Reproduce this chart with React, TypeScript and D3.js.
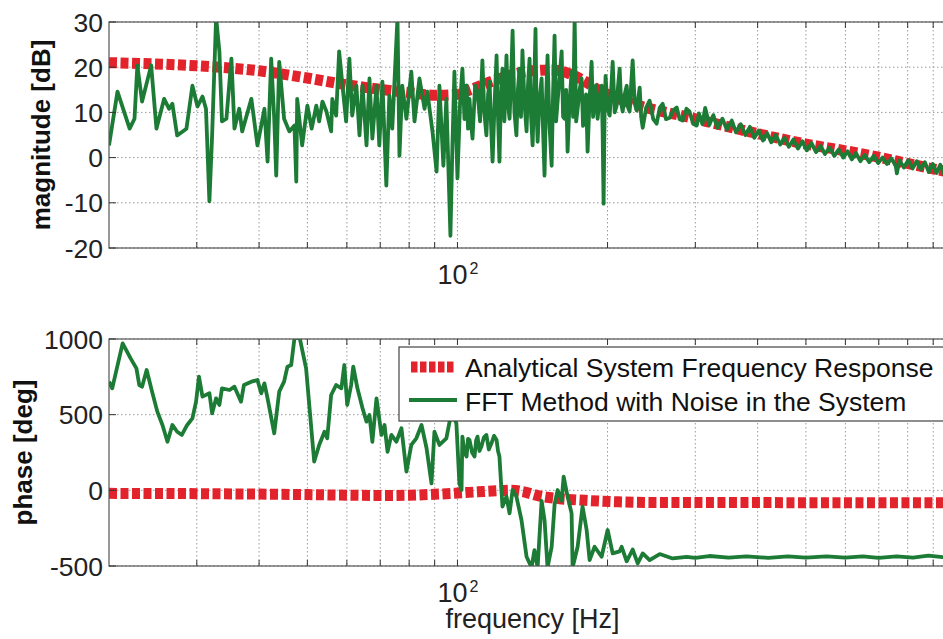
import React from 'react';
import * as d3 from 'd3';

// frequency [Hz], value
const analyticMag: [number, number][] = [
  [20, 21.0], [30, 20.3], [40, 19.2], [50, 17.6], [60, 16.1], [70, 15.1], [80, 14.4], [90, 13.8],
  [100, 14.0], [106, 15.0], [118, 17.0], [137, 19.0], [155, 19.4], [178, 17.2], [193, 14.8],
  [218, 12.4], [300, 8.6], [400, 5.3], [500, 3.0], [600, 1.5], [700, 0.1], [800, -1.3],
  [900, -2.5], [1000, -3.5],
];

const analyticPhase: [number, number][] = [
  [20, -20], [30, -22], [40, -25], [50, -28], [60, -32], [70, -34], [80, -32], [90, -26],
  [100, -18], [110, -10], [120, -3], [128, 0], [135, -8], [145, -35], [160, -55], [180, -66],
  [210, -76], [250, -80], [1000, -82],
];

const fftMag: [number, number][] = [
  [20, 2.7], [20.8, 14.6], [22, 6.4], [22.5, 8.6], [22.8, 20.4], [23.3, 12.4], [24.3, 20.4],
  [24.9, 6.4], [25.8, 13.0], [26.4, 10.8], [26.8, 11.9], [27.4, 4.9], [28.6, 6.4], [29.4, 15.9],
  [30.1, 11.3], [30.8, 13.5], [31.3, 10.8], [31.8, -9.7], [32.2, 4.9], [32.8, 31], [33.3, 23.5],
  [33.7, 8.0], [34.4, 8.6], [35.2, 21.9], [35.7, 6.4], [36.5, 10.8], [37.0, 5.8], [38.6, 13.0],
  [39.7, 2.7], [41.0, 10.8], [41.6, -0.9], [42.3, 21.9], [42.9, 8.6], [43.3, -4.0], [43.9, 21.2],
  [44.9, 8.6], [46.0, 5.8], [47.1, 7.1], [47.5, -5.3], [47.7, 13.0], [48.8, 2.7], [50.0, 11.5],
  [51.0, 6.4], [52.1, 11.5], [52.8, 8.0], [53.6, 12.4], [54.6, 10.2], [55.8, 5.8], [56.1, 13.0],
  [57.1, 9.3], [57.9, 23.5], [58.8, 15.9], [59.8, 8.0], [60.7, 21.9], [61.5, 9.3], [62.7, 15.9],
  [63.6, 4.9], [64.5, 15.9], [65.7, 2.7], [66.6, 17.5], [67.5, 4.2], [68.8, 15.9], [69.7, 2.7],
  [70.7, 16.8], [72.0, -6.2], [73.0, 13.7], [74.0, 6.4], [75.8, 31], [76.5, 0.4], [77.5, 15.9],
  [79.0, 8.6], [80.8, 19.0], [82.0, 8.0], [83.9, 17.5], [85.9, 10.8], [87.0, 14.6], [89.1, 5.8],
  [90.8, -3.1], [92.0, 15.9], [93.7, -1.8], [95.0, 13.0], [96.8, -17.3], [97.7, 2.7], [98.6, 19.0],
  [100, -4.6], [101.2, 12], [102.3, 19.7], [103.3, 8.5], [104.3, 16], [105, 6.4], [105.7, 13.0],
  [106.5, 7.5], [107.2, 4.2], [108.5, 16], [109.7, 14.6], [111, 8], [112.2, 21.5], [113.2, 10],
  [114.3, 4.9], [115.2, 14], [116.0, 16.8], [116.8, 7], [117.6, -0.9], [118.7, 12], [119.8, 22.6],
  [120.6, 9], [121.4, -0.9], [122.2, 13], [123.1, 19.7], [124.2, 8], [125.4, 22.6], [126.3, 12],
  [127.2, 8.6], [128.1, 17], [129.0, 28.1], [130.1, 10], [131.3, 4.9], [132.2, 15], [133.2, 19.7],
  [134.1, 9], [135.0, 23.7], [136.3, 12], [137.6, 5.8], [138.5, 16], [139.5, 21.9], [140.5, 9],
  [141.5, 2.7], [142.4, 14], [143.4, 28.5], [144.1, 10], [144.8, 3.5], [146.1, 13], [147.5, 17.5],
  [148.5, 6], [149.5, -4.0], [150.5, 12], [151.6, 22.6], [153, 7], [154.5, -1.8], [155.5, 14],
  [156.6, 27.0], [157.7, 8], [158.8, 12.4], [160.3, 18], [161.8, 23.5], [162.9, 9], [164.0, 8.6],
  [165.2, 15], [166.3, 1.3], [167.8, 12], [169.4, 19.0], [170.6, 9], [171.8, 31], [173, 8],
  [174.2, 10.8], [175.8, 15], [177.4, 17.5], [178.6, 7], [179.9, 8.6], [181.1, 14], [182.4, 1.3],
  [184.1, 13], [185.8, 21.2], [187.1, 9], [188.4, 12.4], [189.7, 16], [191.0, 8.6], [192.8, 13],
  [194.6, 15.9], [195.5, 6], [196.4, -10.2], [197.3, 10], [198.2, 18.1], [200, 11], [202.0, 9.3],
  [203.4, 15], [204.8, 21.2], [206.7, 10], [208.6, 11.5], [210, 16], [211.5, 19.7], [213, 12],
  [214.5, 10.2], [216.5, 14], [218.5, 15.9], [220, 11], [221.5, 10.2], [223, 16], [224.6, 21.5],
  [226.7, 12], [228.8, 10.4], [230.4, 13], [232.0, 15.5], [233.6, 9], [235.3, 6.6], [239, 11],
  [242.9, 12.6], [247, 8.5], [250.9, 7.5], [254.5, 11], [258.0, 11.9], [262, 8.5], [266.5, 8.8],
  [271, 10.5], [275.3, 11.1], [279, 8.5], [283.0, 8.2], [288, 10.8], [292, 10.2], [297, 7.5],
  [302, 7.1], [305, 9.8], [310, 7.4], [314, 11.0], [320, 7.2], [326, 9.4], [332, 6.6], [340, 8.6],
  [347, 6.2], [355, 8.2], [362, 5.6], [370, 7.4], [378, 5.0], [386, 6.8], [394, 4.4], [402, 6.0],
  [410, 3.8], [418, 5.4], [426, 3.4], [435, 5.0], [444, 2.9], [453, 4.4], [462, 2.4], [472, 4.0],
  [482, 2.0], [492, 3.6], [502, 1.6], [513, 3.2], [524, 1.2], [535, 2.6], [546, 0.8], [558, 2.2],
  [570, 0.4], [582, 1.8], [594, 0.0], [606, 1.4], [618, -0.4], [630, 1.0], [643, -0.8],
  [656, 0.6], [670, -1.0], [684, 0.4], [698, -1.2], [712, 0.0], [727, -1.4], [742, -0.2],
  [757, -1.8], [761, -3.5], [770, -0.6], [786, -2.2], [802, -0.6], [818, -2.4], [834, -0.8],
  [850, -2.6], [866, -1.0], [882, -3.2], [898, -1.4], [914, -3.4], [930, -1.6], [946, -3.6],
  [962, -2.0], [980, -3.6], [1000, -2.6],
];

const fftPhase: [number, number][] = [
  [20, 718], [20.3, 674], [21.3, 971], [22.1, 872], [22.7, 806], [23.0, 696], [23.3, 685],
  [23.8, 795], [24.4, 652], [25.0, 520], [25.6, 432], [26.2, 321], [26.8, 432], [27.4, 387],
  [28.0, 366], [28.7, 432], [29.4, 476], [29.9, 586], [30.3, 751], [30.8, 619], [31.8, 641],
  [32.2, 509], [32.8, 608], [33.3, 564], [33.7, 674], [34.9, 663], [35.7, 685], [36.8, 586],
  [37.3, 696], [38.6, 718], [39.7, 729], [40.4, 641], [41.0, 707], [41.6, 608], [42.9, 377],
  [43.9, 652], [44.9, 718], [45.6, 817], [46.4, 828], [47.1, 1005], [48.2, 1015], [49.7, 806],
  [51.6, 190], [52.8, 300], [54.1, 387], [54.8, 344], [55.8, 630], [57.1, 696], [58.5, 674],
  [59.3, 828], [60.1, 564], [61.2, 696], [61.8, 817], [63.0, 674], [64.5, 542], [65.7, 454],
  [66.6, 498], [67.5, 321], [68.8, 608], [70.4, 366], [71.4, 432], [72.4, 255], [73.7, 366],
  [75.4, 321], [77.2, 410], [79.0, 124], [80.8, 300], [82.7, 344], [84.7, 432], [86.7, 278],
  [88.7, 46], [89.9, 387], [92.0, 300], [95.0, 344], [97.3, 520], [99.5, 443], [100.9, 46],
  [101.9, 2], [102.3, 355], [103.3, 250], [104.3, 223], [105, 340], [105.7, 333], [107, 250],
  [108.2, 223], [109, 330], [109.7, 355], [110.7, 260], [111.7, 289], [113, 350], [114.3, 366],
  [115.6, 270], [117.0, 311], [118.4, 360], [119.8, 333], [120.6, 260], [121.4, 223],
  [123.1, -107], [125.4, -41], [127.2, -152], [129.0, 2], [131.3, -41], [134.4, -196],
  [137.6, -439], [140.8, -510], [142.7, -395], [144.8, -510], [147.5, -69], [149.5, -196],
  [151.6, -510], [154.5, -373], [156.6, -95], [158.8, 2], [161.8, -69], [163.3, 90], [166.3, -41],
  [169.4, -152], [170.2, -510], [174.2, -373], [178.2, -107], [181.6, -262], [184.1, -461],
  [188.4, -373], [194.6, -439], [200.1, -262], [204.8, -417], [211.5, -403], [213.5, -373],
  [218.5, -469], [224.6, -391], [229.9, -483], [235.3, -417], [242.9, -461], [254.5, -421],
  [270.2, -450], [288.3, -439], [300, -446], [320, -434], [350, -445], [380, -436], [420, -446],
  [460, -437], [500, -445], [550, -436], [600, -445], [650, -437], [700, -446], [760, -436],
  [820, -444], [880, -432], [940, -441], [1000, -435],
];

const magTicks = [30, 20, 10, 0, -10, -20];
const phaseTicks = [1000, 500, 0, -500];
const freqGrid = [30, 40, 50, 60, 70, 80, 90, 100, 200, 300, 400, 500, 600, 700, 800, 900];

const W = 943;
const H = 639;
const FONT = 'Liberation Sans, Arial, sans-serif';
const RED = '#e3232c';
const GREEN = '#1c7b35';

const x = d3.scaleLog().domain([20, 1000]).range([109, 956]);
const yMag = d3.scaleLinear().domain([-20, 30]).range([248, 22]);
const yPhase = d3.scaleLinear().domain([-500, 1000]).range([566, 339]);

function Panel({ id, y, ticks, analytic, fft, label, labelX }: any) {
  const [y0, y1] = y.range();
  const x0 = x.range()[0];
  const x1 = x.range()[1];
  const smooth = d3.line<[number, number]>().x(d => x(d[0])).y(d => y(d[1])).curve(d3.curveMonotoneX);
  const raw = d3.line<[number, number]>().x(d => x(d[0])).y(d => y(d[1]));
  return (
    <g>
      <defs>
        <clipPath id={id}>
          <rect x={x0} y={y1} width={x1 - x0} height={y0 - y1} />
        </clipPath>
      </defs>
      <rect x={x0} y={y1} width={x1 - x0} height={y0 - y1} fill="#fff" />
      {/* grid */}
      {freqGrid.map(f => (
        <line key={'v' + f} x1={x(f)} x2={x(f)} y1={y1} y2={y0} stroke="#9a9a9a" strokeWidth={1} strokeDasharray="1.5,2.5" />
      ))}
      {ticks.map((t: number) => (
        <line key={'h' + t} x1={x0} x2={x1} y1={y(t)} y2={y(t)} stroke="#9a9a9a" strokeWidth={1} strokeDasharray="1.5,2.5" />
      ))}
      <g clipPath={`url(#${id})`}>
        <path d={smooth(analytic) || ''} fill="none" stroke={RED} strokeWidth={11} strokeDasharray="8,3.5" />
        <path d={raw(fft) || ''} fill="none" stroke={GREEN} strokeWidth={3.8} strokeLinejoin="round" />
      </g>
      {/* frame and inward ticks */}
      <rect x={x0} y={y1} width={x1 - x0} height={y0 - y1} fill="none" stroke="#555" strokeWidth={1.2} />
      {freqGrid.map(f => (
        <g key={'t' + f}>
          <line x1={x(f)} x2={x(f)} y1={y0} y2={y0 - 6} stroke="#333" />
          <line x1={x(f)} x2={x(f)} y1={y1} y2={y1 + 6} stroke="#333" />
        </g>
      ))}
      {ticks.map((t: number) => (
        <g key={'yt' + t}>
          <line x1={x0} x2={x0 + 7} y1={y(t)} y2={y(t)} stroke="#333" />
          <text x={x0 - 6} y={y(t)} dy="0.36em" textAnchor="end" fontSize={26.5} fill="#222" fontFamily={FONT}>
            {t}
          </text>
        </g>
      ))}
      <text x={x(100) + 10} y={y0 + 36} textAnchor="end" fontSize={27} fill="#222" fontFamily={FONT}>10</text>
      <text x={x(100) + 12} y={y0 + 26} fontSize={16} fill="#222" fontFamily={FONT}>2</text>
      <text
        transform={`translate(${labelX},${(y0 + y1) / 2}) rotate(-90)`}
        textAnchor="middle"
        fontSize={26}
        fontWeight="bold"
        fill="#111"
        fontFamily={FONT}
      >
        {label}
      </text>
    </g>
  );
}

export default function App() {
  return (
    <svg width={W} height={H} style={{ position: 'absolute', left: 0, top: 0, background: '#fff' }}>
      <Panel id="clipMag" y={yMag} ticks={magTicks} analytic={analyticMag} fft={fftMag} label="magnitude [dB]" labelX={50} />
      <Panel id="clipPh" y={yPhase} ticks={phaseTicks} analytic={analyticPhase} fft={fftPhase} label="phase [deg]" labelX={32} />
      <text x={(x.range()[0] + x.range()[1]) / 2} y={628} textAnchor="middle" fontSize={27} fill="#222" fontFamily={FONT}>
        frequency [Hz]
      </text>
      {/* legend */}
      <g>
        <rect x={399} y={347} width={600} height={74} fill="#fff" stroke="#444" strokeWidth={1.2} />
        <line x1={411} x2={453.5} y1={367} y2={367} stroke={RED} strokeWidth={11} strokeDasharray="6.5,2.5" />
        <line x1={409} x2={457} y1={400} y2={400} stroke={GREEN} strokeWidth={3.8} />
        <text x={465} y={377} fontSize={26.5} fill="#111" fontFamily={FONT}>Analytical System Frequency Response</text>
        <text x={465} y={411} fontSize={26.5} fill="#111" fontFamily={FONT}>FFT Method with Noise in the System</text>
      </g>
    </svg>
  );
}
